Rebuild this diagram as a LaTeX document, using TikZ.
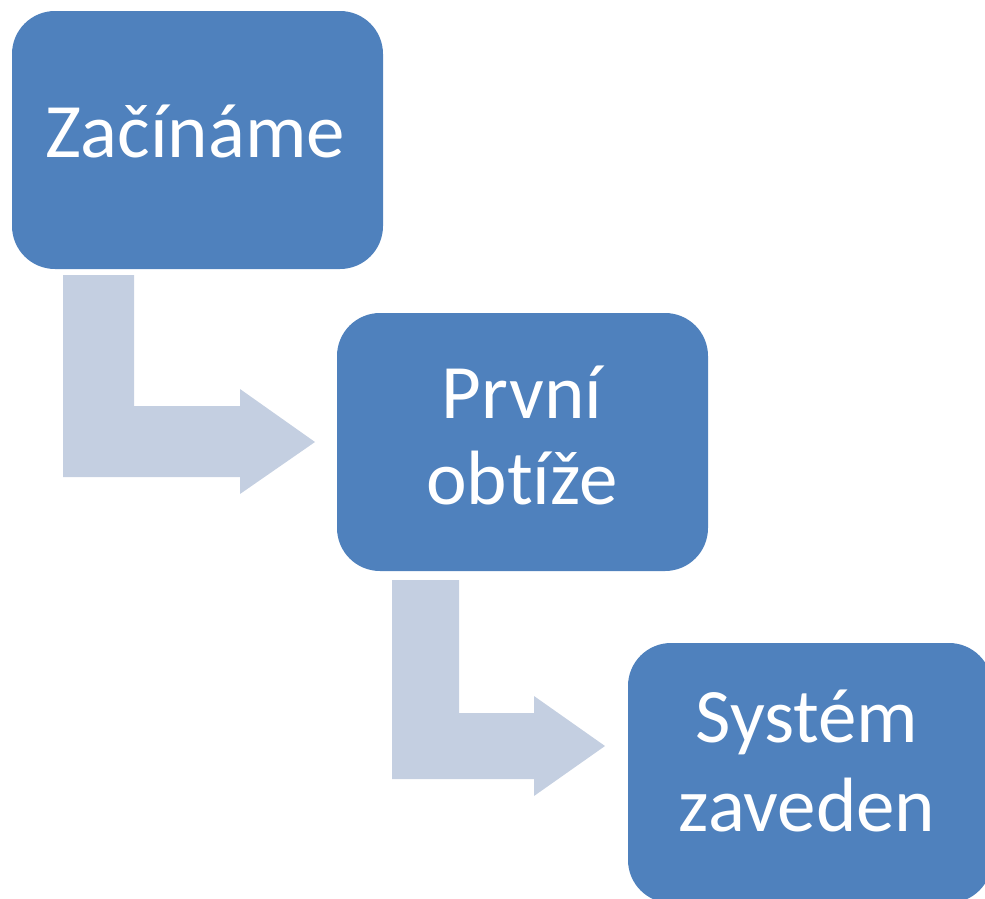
\documentclass[tikz,border=0pt]{standalone}
\usepackage{fontspec}
\setmainfont{Carlito}[Ligatures=NoCommon]
\definecolor{boxblue}{HTML}{4F81BD}
\definecolor{arrowgrey}{HTML}{C4CFE1}
\begin{document}
\begin{tikzpicture}[x=1pt,y=-1pt,
  stagebox/.style={fill=boxblue, draw=none, rounded corners=43pt, inner sep=0pt},
  bentarrow/.style={fill=arrowgrey, draw=none},
  label/.style={text=white, anchor=base, inner sep=0pt, font=\fontsize{77}{87}\selectfont}]
\clip (0,0) rectangle (985,898);
% stage boxes
\node[stagebox, minimum width=371pt, minimum height=258pt] (b1) at (197.5,140) {};
\node[stagebox, minimum width=371pt, minimum height=258pt] (b2) at (522.5,442) {};
\node[stagebox, minimum width=364pt, minimum height=260pt] (b3) at (810,773) {};
% bent arrows
\fill[bentarrow] (63,275) -- (134,275) -- (134,406) -- (240,406) -- (240,389)
  -- (315,442) -- (240,494) -- (240,477) -- (63,477) -- cycle;
\fill[bentarrow] (392,580) -- (459,580) -- (459,713) -- (534,713) -- (534,696)
  -- (605,746) -- (534,796) -- (534,779) -- (392,779) -- cycle;
% labels
\node[label] (t1) at (195,157) {Začínáme};
\node[label] (t2a) at (522,418) {První};
\node[label] (t2b) at (522,504) {obtíže};
\node[label] (t3a) at (807,742) {Systém};
\node[label] (t3b) at (807,831) {zaveden};
\end{tikzpicture}
\end{document}
